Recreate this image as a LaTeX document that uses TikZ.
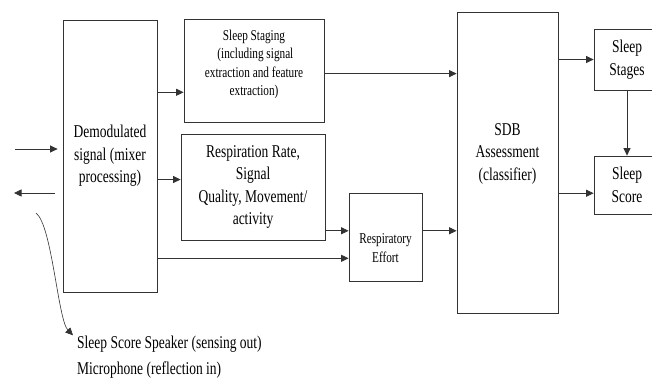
\documentclass[tikz,border=0pt]{standalone}
\usepackage{fontspec}
\setmainfont{Liberation Serif}[FakeStretch=0.75]
\usetikzlibrary{calc}
\usetikzlibrary{arrows.meta}
\tikzset{blk/.style={draw=black!80, line width=0.8pt, align=center, inner sep=1pt, text=black, font=\rmfamily\fontsize{18}{22.5}\selectfont},
        sblk/.style={blk, font=\rmfamily\fontsize{15}{18.3}\selectfont},
        txt/.style={align=center, inner sep=1pt, text=black, font=\rmfamily\fontsize{18}{22.5}\selectfont},
        stxt/.style={txt, font=\rmfamily\fontsize{15}{18.3}\selectfont},
        lbl/.style={inner sep=0pt, text=black, font=\rmfamily\fontsize{18}{22.5}\selectfont},
        arr/.style={->, draw=black!80, line width=0.8pt}}

\begin{document}
\begin{tikzpicture}[x=1pt, y=-1pt, >={Triangle[length=7.5pt, width=7pt]}]
    \clip (0,0) rectangle (652,385);

    % blocks
    \node (demod) at (110,156) [blk, minimum width=94, minimum height=272] {Demodulated\\signal (mixer\\processing)};
    \node (staging) at (254,70.5) [sblk, minimum width=140, minimum height=103,
        label={[stxt, name=staginglbl, yshift=6pt]center:Sleep Staging\\ \ (including signal\\extraction and feature\\extraction)}] {};
    \node (resp) at (253,187) [blk, minimum width=144, minimum height=106] {Respiration Rate,\\Signal\\Quality, Movement/\\activity};
    \node (effort) at (385.5,237) [sblk, minimum width=73, minimum height=88,
        label={[stxt, name=effortlbl, yshift=-11pt]center:Respiratory\\Effort}] {};
    \node (sdb) at (507.5,162.5) [blk, minimum width=101, minimum height=301,
        label={[txt, name=sdblbl, yshift=9pt]center:SDB\\Assessment\\(classifier)}] {};
    \node (stages) at (627,59.5) [blk, minimum width=66, minimum height=61] {Sleep\\Stages};
    \node (score) at (627,185) [blk, minimum width=66, minimum height=58] {Sleep\\Score};

    \node (speaker) at (77,348) [lbl, anchor=base west] {Sleep Score Speaker (sensing out)};
    \node (mic) at (77,374) [lbl, anchor=base west] {Microphone (reflection in)};

    % connectors
    \coordinate (s1) at ($(staging.north west)!0.71!(staging.south west)$);
    \draw[arr] (demod.east |- s1) -- (s1);
    \coordinate (r1) at ($(resp.north west)!0.43!(resp.south west)$);
    \draw[arr] (demod.east |- r1) -- (r1);
    \coordinate (s2) at ($(staging.north east)!0.53!(staging.south east)$);
    \draw[arr] (s2) -- (s2 -| sdb.west);
    \coordinate (e1) at ($(effort.north west)!0.43!(effort.south west)$);
    \draw[arr] (resp.east |- e1) -- (e1);
    \draw[arr] (effort.east |- e1) -- (e1 -| sdb.west);
    \coordinate (e2) at ($(effort.north west)!0.74!(effort.south west)$);
    \draw[arr] (demod.east |- e2) -- (e2);
    \draw[arr] (sdb.east |- stages.west) -- (stages.west);
    \coordinate (c1) at ($(score.north west)!0.64!(score.south west)$);
    \draw[arr] (sdb.east |- c1) -- (c1);
    \draw[arr] (stages.south) -- (score.north);

    % sensing in / out
    \coordinate (in) at (15,149);
    \draw[arr] (in) -- ($(in -| demod.west)+(-5,0)$);
    \coordinate (out) at (14,193);
    \draw[arr] ($(out -| demod.west)+(-8,0)$) -- (out);
    \coordinate (sense) at (36,213);
    \draw[arr, line width=0.6pt] (sense) .. controls (52,225) and (58,320) .. ([xshift=-4pt]speaker.north west);
\end{tikzpicture}
\end{document}
